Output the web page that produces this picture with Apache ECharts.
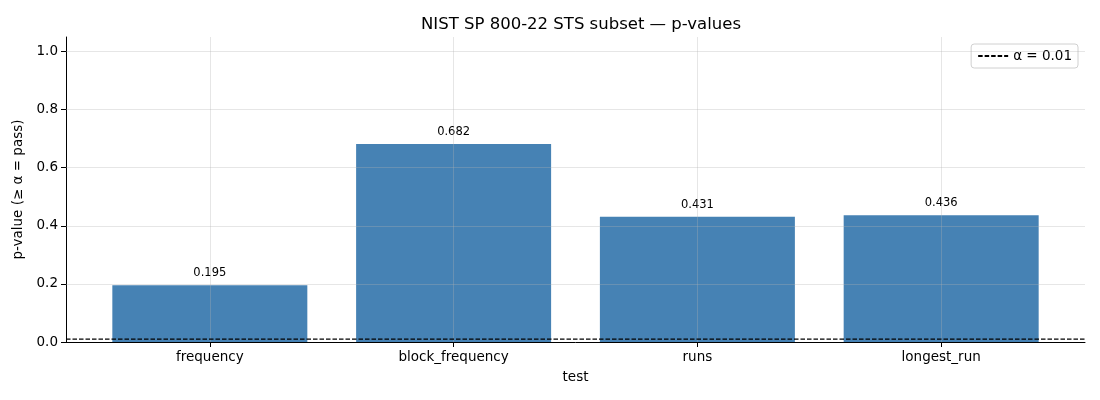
<!DOCTYPE html>
<html>
<head>
<meta charset="UTF-8">
<title>NIST SP 800-22 STS subset</title>
<script src="https://cdn.jsdelivr.net/npm/echarts@6/dist/echarts.min.js"></script>
<style>
  html, body { margin: 0; padding: 0; background: #fff; }
  #chart { width: 1100px; height: 400px; }
</style>
</head>
<body>
<div id="chart"></div>
<script>
// data
var tests = ['frequency', 'block_frequency', 'runs', 'longest_run'];
var pValues = [0.195, 0.682, 0.431, 0.436];
var alpha = 0.01;
var yTicks = [0, 0.2, 0.4, 0.6, 0.8, 1.0];

var xMin = -0.59, xMax = 3.59;
var font = 'DejaVu Sans';
var gridColor = 'rgba(176,176,176,0.32)';

var chart = echarts.init(document.getElementById('chart'));

var barData = pValues.map(function (v, i) { return [i, v]; });
var xIdx = tests.map(function (t, i) { return i; });

// grid lines, drawn over the bars like matplotlib does here
var gridLines = [];
yTicks.forEach(function (v) { if (v > 0) gridLines.push({ yAxis: v }); });
xIdx.forEach(function (i) { gridLines.push({ xAxis: i }); });

var option = {
  animation: false,
  textStyle: { fontFamily: font },
  title: {
    text: 'NIST SP 800-22 STS subset — p-values',
    left: 576, top: 11, textAlign: 'center',
    textStyle: { fontFamily: font, fontSize: 16.5, fontWeight: 'normal', color: '#000' }
  },
  legend: {
    right: 22, top: 44,
    padding: [5, 6, 5, 6],
    borderColor: '#d0d0d0', borderWidth: 1, borderRadius: 3,
    itemWidth: 30, itemHeight: 10, itemGap: 6,
    itemStyle: { opacity: 0 },
    textStyle: { fontFamily: font, fontSize: 13.5, color: '#000' },
    data: ['α = 0.01']
  },
  grid: { left: 66, right: 15, top: 37, bottom: 58 },
  xAxis: {
    type: 'value', min: xMin, max: xMax,
    name: 'test', nameLocation: 'middle', nameGap: 28,
    nameTextStyle: { fontFamily: font, fontSize: 13.5, color: '#000' },
    axisLine: { show: true, onZero: false, lineStyle: { color: '#000', width: 1 } },
    axisTick: { show: true, length: 5, customValues: xIdx, lineStyle: { color: '#000' } },
    axisLabel: {
      customValues: xIdx, margin: 8,
      fontFamily: font, fontSize: 13.5, color: '#000',
      formatter: function (v) { return tests[Math.round(v)] || ''; }
    },
    splitLine: { show: false }
  },
  yAxis: {
    type: 'value', min: 0, max: 1.05,
    name: 'p-value (≥ α = pass)', nameLocation: 'middle', nameGap: 35, nameRotate: 90,
    nameTextStyle: { fontFamily: font, fontSize: 13.5, color: '#000' },
    axisLine: { show: true, onZero: false, lineStyle: { color: '#000', width: 1 } },
    axisTick: { show: true, length: 5, customValues: yTicks, lineStyle: { color: '#000' } },
    axisLabel: {
      customValues: yTicks, margin: 8,
      fontFamily: font, fontSize: 13.5, color: '#000',
      formatter: function (v) { return v.toFixed(1); }
    },
    splitLine: { show: false }
  },
  series: [
    {
      type: 'bar',
      name: 'p',
      data: barData,
      barWidth: 195,
      itemStyle: { color: '#4682b4' },
      label: {
        show: true, position: 'top', distance: 6,
        fontFamily: font, fontSize: 11.5, color: '#000',
        formatter: function (p) { return p.value[1].toFixed(3); }
      },
      markLine: {
        silent: true, symbol: 'none', label: { show: false },
        lineStyle: { color: gridColor, width: 1, type: 'solid' },
        data: gridLines
      },
      z: 2
    },
    {
      type: 'line',
      name: 'α = 0.01',
      data: [[xMin, alpha], [xMax, alpha]],
      showSymbol: false, symbol: 'none',
      lineStyle: { color: '#000', width: 1.2, type: [4.5, 2] },
      itemStyle: { color: '#000' },
      z: 5
    }
  ]
};

chart.setOption(option);
</script>
</body>
</html>
